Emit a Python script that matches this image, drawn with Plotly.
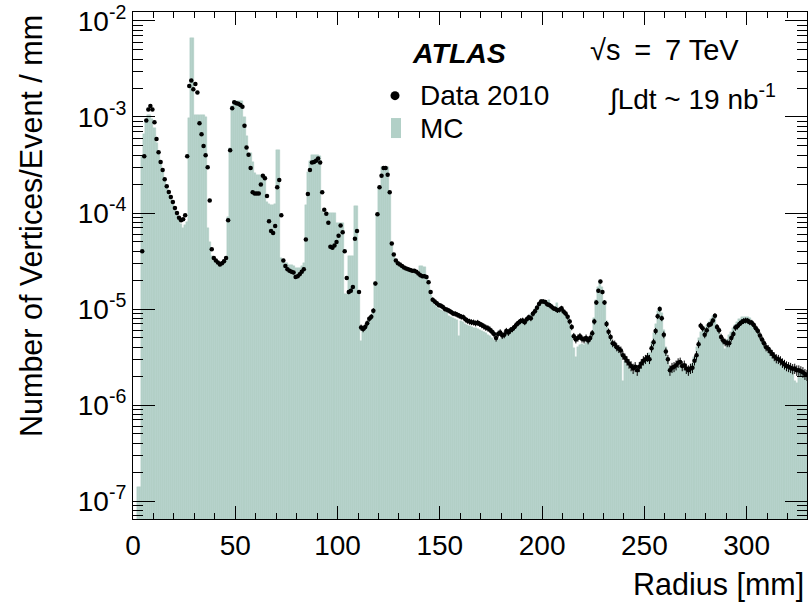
import math
import plotly.graph_objects as go

# ---------------- data (1 mm bins, lower edges 0..329) ----------------
bin_width = 1.0
bin_low = list(range(0, 330))

data_2010 = [
    None, None, None, None, 4.0e-5, 3.9e-4, 9.2e-4, 1.2e-3, 1.3e-3, 1.2e-3,
    8.8e-4, 5.9e-4, 4.3e-4, 3.4e-4, 2.8e-4, 2.25e-4, 1.9e-4, 1.65e-4, 1.47e-4, 1.3e-4,
    1.13e-4, 1.0e-4, 8.9e-5, 8.4e-5, 8.6e-5, 9.5e-5, 3.9e-4, 2.1e-3, 2.4e-3, 1.95e-3,
    2.2e-3, 1.8e-3, 8.6e-4, 6.6e-4, 5.0e-4, 4.0e-4, 3.0e-4, 1.35e-4, 4.2e-5, 3.4e-5,
    3.2e-5, 3.05e-5, 2.9e-5, 3.0e-5, 3.15e-5, 3.4e-5, 8.4e-5, 4.5e-4, 1.23e-3, 1.42e-3,
    1.39e-3, 1.37e-3, 1.33e-3, 1.28e-3, 8.1e-4, 4.8e-4, 4.05e-4, 2.95e-4, 1.64e-4, 1.6e-4,
    1.6e-4, 1.6e-4, 1.98e-4, 2.45e-4, 2.3e-4, 1.5e-4, 8.2e-5, 6.5e-5, 6.2e-5, 7.3e-5,
    1.85e-4, 2.2e-4, 9.5e-5, 3.2e-5, 2.8e-5, 2.6e-5, 2.5e-5, 2.45e-5, 2.4e-5, 2.15e-5,
    2.2e-5, 2.3e-5, 2.45e-5, 2.6e-5, 5.3e-5, 1.58e-4, 2.8e-4, 3.35e-4, 3.4e-4, 3.5e-4,
    3.7e-4, 3.35e-4, 1.64e-4, 1.08e-4, 9.8e-5, 7.9e-5, 4.45e-5, 4.35e-5, 4.6e-5, 5.0e-5,
    5.8e-5, 7.4e-5, 6.3e-5, 4.0e-5, 2.1e-5, 1.5e-5, 1.55e-5, 1.7e-5, 5.4e-5, 6.5e-5,
    1.5e-5, 6.4e-6, 6.2e-6, 6.5e-6, 7.1e-6, 7.9e-6, 8.3e-6, 9.6e-6, 1.84e-5, 9.7e-5,
    1.85e-4, 2.45e-4, 2.95e-4, 2.95e-4, 2.5e-4, 1.64e-4, 4.8e-5, 3.7e-5, 3.2e-5, 3.0e-5,
    2.9e-5, 2.8e-5, 2.7e-5, 2.65e-5, 2.6e-5, 2.55e-5, 2.5e-5, 2.5e-5, 2.45e-5, 2.35e-5,
    2.25e-5, 2.2e-5, 2.2e-5, 2.15e-5, 1.9e-5, 1.5e-5, 1.25e-5, 1.2e-5, 1.15e-5, 1.1e-5,
    1.08e-5, 1.05e-5, 1.0e-5, 9.8e-6, 9.6e-6, 9.3e-6, 9.0e-6, 8.9e-6, 8.7e-6, 8.5e-6,
    8.3e-6, 8.2e-6, 7.8e-6, 7.55e-6, 7.4e-6, 7.3e-6, 7.25e-6, 7.1e-6, 7.2e-6, 7.0e-6,
    6.8e-6, 6.6e-6, 6.4e-6, 6.3e-6, 6.1e-6, 5.8e-6, 5.5e-6, 5.0e-6, 5.5e-6, 5.7e-6,
    5.3e-6, 5.4e-6, 5.9e-6, 5.7e-6, 6.0e-6, 6.2e-6, 6.5e-6, 6.9e-6, 7.2e-6, 7.5e-6,
    7.6e-6, 7.3e-6, 7.8e-6, 8.2e-6, 8.0e-6, 8.9e-6, 9.5e-6, 1.03e-5, 1.13e-5, 1.2e-5,
    1.2e-5, 1.18e-5, 1.12e-5, 1.1e-5, 1.06e-5, 1.02e-5, 1.0e-5, 9.7e-6, 9.8e-6, 1.02e-5,
    9.4e-6, 9.0e-6, 8.3e-6, 7.4e-6, 6.5e-6, 5.2e-6, 4.8e-6, 5.0e-6, 5.2e-6, 4.9e-6,
    4.8e-6, 5.0e-6, 4.7e-6, 5.0e-6, 5.6e-6, 7.4e-6, 1.17e-5, 1.55e-5, 1.93e-5, 1.5e-5,
    1.17e-5, 7.0e-6, 5.8e-6, 5.1e-6, 4.4e-6, 4.3e-6, 4.0e-6, 3.85e-6, 3.7e-6, 3.3e-6,
    3.1e-6, 2.9e-6, 2.7e-6, 2.55e-6, 2.4e-6, 2.5e-6, 2.3e-6, 2.5e-6, 2.7e-6, 2.9e-6,
    3.0e-6, 3.15e-6, 3.0e-6, 3.9e-6, 4.5e-6, 5.9e-6, 8.4e-6, 1.0e-5, 8.0e-6, 5.4e-6,
    3.6e-6, 3.0e-6, 2.3e-6, 2.45e-6, 2.5e-6, 2.6e-6, 2.75e-6, 2.8e-6, 2.55e-6, 2.6e-6,
    2.4e-6, 2.3e-6, 2.4e-6, 2.45e-6, 2.9e-6, 3.3e-6, 4.3e-6, 6.7e-6, 6.3e-6, 5.4e-6,
    6.0e-6, 6.8e-6, 7.0e-6, 7.6e-6, 8.5e-6, 6.5e-6, 6.0e-6, 5.1e-6, 4.7e-6, 4.5e-6,
    4.4e-6, 4.4e-6, 5.0e-6, 5.5e-6, 6.4e-6, 6.6e-6, 7.0e-6, 7.3e-6, 7.5e-6, 7.6e-6,
    7.55e-6, 7.3e-6, 7.2e-6, 6.8e-6, 6.3e-6, 5.9e-6, 5.3e-6, 4.8e-6, 4.4e-6, 4.0e-6,
    3.85e-6, 3.6e-6, 3.4e-6, 3.2e-6, 3.05e-6, 3.0e-6, 2.9e-6, 2.75e-6, 2.65e-6, 2.55e-6,
    2.5e-6, 2.45e-6, 2.38e-6, 2.4e-6, 2.3e-6, 2.3e-6, 2.25e-6, 2.2e-6, 2.1e-6, 2.05e-6,
]

mc = [
    None, None, 1.4e-7, 1.4e-7, 3.9e-4, 6.6e-4, 9.3e-4, 1.05e-3, 1.05e-3, 9.6e-4,
    7.6e-4, 5.3e-4, 4.1e-4, 3.3e-4, 2.7e-4, 2.2e-4, 1.85e-4, 1.6e-4, 1.4e-4, 1.25e-4,
    1.08e-4, 9.5e-5, 8.5e-5, 7.6e-5, 7.0e-5, 7.5e-5, 8.0e-5, 9.7e-4, 6.6e-3, 6.6e-3,
    1.05e-3, 1.05e-3, 1.05e-3, 1.05e-3, 1.05e-3, 1.0e-3, 7.0e-5, 5.0e-5, 3.6e-5, 3.2e-5,
    3.0e-5, 2.85e-5, 2.8e-5, 2.9e-5, 3.1e-5, 3.3e-5, 9.0e-5, 4.8e-4, 1.3e-3, 1.45e-3,
    1.45e-3, 1.45e-3, 1.45e-3, 1.45e-3, 1.0e-3, 6.3e-4, 4.2e-4, 4.2e-4, 3.4e-4, 2.6e-4,
    2.5e-4, 2.5e-4, 2.5e-4, 2.5e-4, 2.4e-4, 1.3e-4, 1.25e-4, 1.2e-4, 1.2e-4, 1.25e-4,
    4.5e-4, 4.5e-4, 3.4e-5, 3.1e-5, 3.0e-5, 3.0e-5, 2.9e-5, 2.9e-5, 2.8e-5, 2.7e-5,
    2.7e-5, 2.7e-5, 2.8e-5, 3.0e-5, 1.2e-4, 2.7e-4, 3.45e-4, 4.0e-4, 4.05e-4, 4.05e-4,
    4.05e-4, 3.9e-4, 1.04e-4, 1.0e-4, 1.0e-4, 1.0e-4, 1.0e-4, 1.0e-4, 1.0e-4, 7.9e-5,
    7.9e-5, 7.9e-5, 7.9e-5, 1.45e-5, 1.45e-5, 3.6e-5, 3.6e-5, 3.6e-5, 1.17e-4, 1.17e-4,
    1.4e-5, 4.7e-6, 6.2e-6, 6.5e-6, 7.0e-6, 7.8e-6, 8.2e-6, 9.5e-6, 1.9e-5, 9.7e-5,
    1.8e-4, 3.05e-4, 3.05e-4, 3.05e-4, 3.0e-4, 1.67e-4, 4.7e-5, 3.6e-5, 3.2e-5, 2.9e-5,
    2.8e-5, 2.7e-5, 2.6e-5, 2.55e-5, 2.5e-5, 2.45e-5, 2.4e-5, 2.35e-5, 2.3e-5, 2.25e-5,
    2.8e-5, 2.8e-5, 2.75e-5, 2.1e-5, 1.8e-5, 1.4e-5, 1.2e-5, 1.1e-5, 1.05e-5, 1.0e-5,
    9.8e-6, 9.5e-6, 9.2e-6, 9.0e-6, 8.5e-6, 8.3e-6, 8.0e-6, 7.8e-6, 7.6e-6, 5.2e-6,
    7.5e-6, 7.3e-6, 7.0e-6, 6.8e-6, 6.6e-6, 6.5e-6, 6.4e-6, 6.3e-6, 6.2e-6, 6.1e-6,
    5.9e-6, 5.8e-6, 5.6e-6, 5.4e-6, 5.2e-6, 5.0e-6, 4.8e-6, 4.7e-6, 4.8e-6, 4.9e-6,
    5.0e-6, 5.2e-6, 5.3e-6, 5.5e-6, 5.8e-6, 6.1e-6, 6.4e-6, 6.8e-6, 7.1e-6, 7.3e-6,
    7.5e-6, 7.6e-6, 7.9e-6, 8.3e-6, 8.8e-6, 9.4e-6, 1.0e-5, 1.08e-5, 1.15e-5, 1.2e-5,
    1.22e-5, 1.2e-5, 1.2e-5, 1.25e-5, 1.12e-5, 1.05e-5, 1.0e-5, 1.15e-5, 9.8e-6, 9.6e-6,
    9.2e-6, 8.8e-6, 8.0e-6, 6.8e-6, 5.4e-6, 3.9e-6, 3.2e-6, 4.0e-6, 4.2e-6, 4.3e-6,
    4.2e-6, 4.4e-6, 4.5e-6, 4.8e-6, 5.5e-6, 8.0e-6, 1.25e-5, 1.7e-5, 1.9e-5, 1.7e-5,
    1.2e-5, 7.5e-6, 5.6e-6, 4.9e-6, 4.3e-6, 4.0e-6, 3.8e-6, 3.6e-6, 3.4e-6, 1.8e-6,
    2.9e-6, 2.6e-6, 2.5e-6, 2.3e-6, 2.2e-6, 2.2e-6, 2.1e-6, 2.3e-6, 2.5e-6, 2.7e-6,
    2.9e-6, 3.1e-6, 3.5e-6, 4.5e-6, 5.6e-6, 7.0e-6, 9.5e-6, 1.05e-5, 9.0e-6, 6.0e-6,
    4.0e-6, 3.0e-6, 2.5e-6, 2.4e-6, 2.4e-6, 2.5e-6, 2.5e-6, 2.55e-6, 2.5e-6, 2.4e-6,
    2.3e-6, 2.3e-6, 2.4e-6, 2.7e-6, 3.2e-6, 4.0e-6, 5.0e-6, 5.8e-6, 6.0e-6, 6.3e-6,
    6.8e-6, 7.3e-6, 7.8e-6, 8.5e-6, 8.0e-6, 6.8e-6, 5.8e-6, 5.0e-6, 4.6e-6, 3.8e-6,
    4.8e-6, 5.3e-6, 5.8e-6, 6.3e-6, 6.8e-6, 7.4e-6, 7.8e-6, 8.2e-6, 8.3e-6, 8.3e-6,
    8.2e-6, 8.0e-6, 7.5e-6, 7.0e-6, 6.4e-6, 5.8e-6, 5.2e-6, 4.6e-6, 4.2e-6, 3.8e-6,
    3.6e-6, 3.4e-6, 3.2e-6, 3.0e-6, 2.9e-6, 2.8e-6, 2.7e-6, 2.6e-6, 2.5e-6, 2.45e-6,
    2.4e-6, 2.35e-6, 2.3e-6, 1.8e-6, 1.7e-6, 2.2e-6, 2.25e-6, 2.2e-6, 2.1e-6, 2.0e-6,
]

# Poisson-like normalisation for the data error bars (per event per mm)
err_norm = 3.6e-8

y_tick_vals = [1e-7, 1e-6, 1e-5, 1e-4, 1e-3, 1e-2]
y_tick_text = ["10<sup>-7</sup>", "10<sup>-6</sup>", "10<sup>-5</sup>",
               "10<sup>-4</sup>", "10<sup>-3</sup>", "10<sup>-2</sup>"]
x_tick_vals = [0, 50, 100, 150, 200, 250, 300]

# ---------------- figure ----------------
centers = [lo + bin_width / 2 for lo in bin_low]
errs = [math.sqrt(v * err_norm) if v is not None else None for v in data_2010]

MC_COLOR = "#b2d0c7"
FONT = "Liberation Sans, Arial, Helvetica, sans-serif"
X_RANGE = [0, 329.5]
Y_RANGE = [-7.187, -1.9066]

fig = go.Figure()
fig.add_trace(go.Bar(
    x=centers, y=mc, width=bin_width,
    marker=dict(color=MC_COLOR, line=dict(width=0.4, color=MC_COLOR)),
    name="MC", showlegend=False, hoverinfo="skip",
))
fig.add_trace(go.Scatter(
    x=centers, y=data_2010, mode="markers",
    marker=dict(color="black", size=4.5),
    error_y=dict(type="data", array=errs, visible=True, thickness=1, width=0, color="black"),
    name="Data 2010", showlegend=False, hoverinfo="skip",
))
# invisible helper trace so the mirrored (top/right) tick axes are drawn
fig.add_trace(go.Scatter(x=[X_RANGE[0]], y=[1e-5], xaxis="x2", yaxis="y2", mode="markers",
                         marker=dict(opacity=0), showlegend=False, hoverinfo="skip"))

minor_y = [m * 10.0 ** e for e in range(-8, -1) for m in range(2, 10)]

W, H = 808, 606
ML, MR, MT, MB = 133, 1, 10, 87
PW, PH = W - ML - MR, H - MT - MB

def px(xp):
    return (xp - ML) / PW

def py(yp):
    return (H - MB - yp) / PH

xaxis_common = dict(
    range=X_RANGE, showgrid=False, zeroline=False,
    showline=True, linecolor="black", linewidth=1,
    ticks="inside", ticklen=13, tickwidth=1, tickcolor="black",
    tickmode="array", tickvals=x_tick_vals,
    minor=dict(ticks="inside", ticklen=6, tickwidth=1, tickcolor="black",
               tickmode="linear", tick0=0, dtick=10, showgrid=False),
    layer="above traces",
)
yaxis_common = dict(
    type="log", range=Y_RANGE, showgrid=False, zeroline=False,
    showline=True, linecolor="black", linewidth=1,
    ticks="inside", ticklen=22, tickwidth=1, tickcolor="black",
    tickmode="array", tickvals=y_tick_vals,
    minor=dict(ticks="inside", ticklen=10, tickwidth=1, tickcolor="black",
               tickmode="array", tickvals=minor_y, showgrid=False),
    layer="above traces",
)

fig.update_layout(
    width=W, height=H,
    margin=dict(l=ML, r=MR, t=MT, b=MB, pad=0),
    paper_bgcolor="white", plot_bgcolor="white",
    bargap=0, barmode="overlay",
    font=dict(family=FONT, size=28, color="black"),
    xaxis=dict(**xaxis_common, ticktext=[str(v) for v in x_tick_vals],
               tickfont=dict(size=28), ticklabelstandoff=1, side="bottom"),
    yaxis=dict(**yaxis_common, ticktext=y_tick_text, tickfont=dict(size=28),
               ticklabelstandoff=0, ticklabeloverflow="allow", side="left"),
    xaxis2=dict(**xaxis_common, overlaying="x", side="top", showticklabels=False,
                anchor="y2"),
    yaxis2=dict(**yaxis_common, overlaying="y", side="right", showticklabels=False,
                anchor="x2"),
)

TITLE_SIZE = 30.5
TEXT_SIZE = 28
ann = []
ann.append(dict(text="Radius [mm]", x=px(806), y=py(585), xref="paper", yref="paper",
                xanchor="right", yanchor="middle", showarrow=False, font=dict(size=TITLE_SIZE)))
ann.append(dict(text="Number of Vertices/Event / mm", x=px(31), y=py(11), xref="paper",
                yref="paper", xanchor="center", yanchor="top", textangle=-90,
                showarrow=False, font=dict(size=TITLE_SIZE)))
ann.append(dict(text="<b><i>ATLAS</i></b>", x=px(410), y=py(51), xref="paper", yref="paper",
                xanchor="left", yanchor="middle", showarrow=False, font=dict(size=TEXT_SIZE + 0.5)))
ann.append(dict(text="Data 2010", x=px(418), y=py(94), xref="paper", yref="paper",
                xanchor="left", yanchor="middle", showarrow=False, font=dict(size=TEXT_SIZE)))
ann.append(dict(text="MC", x=px(418), y=py(127), xref="paper", yref="paper",
                xanchor="left", yanchor="middle", showarrow=False, font=dict(size=TEXT_SIZE)))
ann.append(dict(text="√s\u2009 = \u20097 TeV", x=px(588), y=py(48), xref="paper", yref="paper",
                xanchor="left", yanchor="middle", showarrow=False, font=dict(size=TEXT_SIZE + 1)))
ann.append(dict(text="∫Ldt ~ 19 nb<sup>-1</sup>", x=px(606), y=py(95), xref="paper", yref="paper",
                xanchor="left", yanchor="middle", showarrow=False, font=dict(size=TEXT_SIZE)))
fig.update_layout(annotations=ann)

fig.add_shape(type="circle", xref="paper", yref="paper", xsizemode="pixel", ysizemode="pixel",
              xanchor=px(395), yanchor=py(94), x0=-4.5, x1=4.5, y0=-4.5, y1=4.5,
              fillcolor="black", line=dict(width=0))
fig.add_shape(type="rect", xref="paper", yref="paper", xsizemode="pixel", ysizemode="pixel",
              xanchor=px(396), yanchor=py(126.5), x0=-5, x1=5, y0=-10, y1=10,
              fillcolor=MC_COLOR, line=dict(width=0))

fig.write_html("out.html")
